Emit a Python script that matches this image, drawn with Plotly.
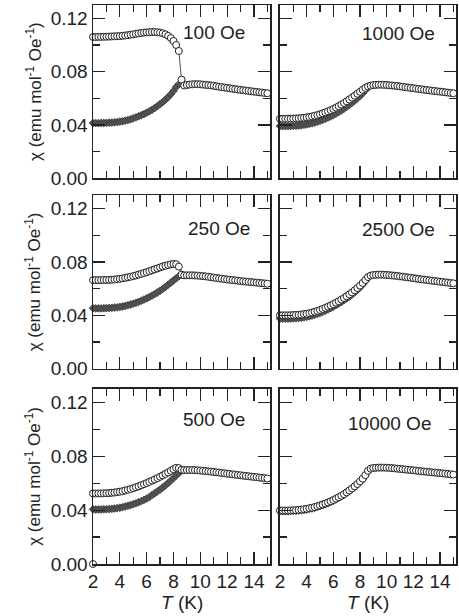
import plotly.graph_objects as go

# Temperatures (K)
T_FC = [2.0, 2.2, 2.4, 2.6, 2.8, 3.0, 3.2, 3.4, 3.6, 3.8, 4.0, 4.2, 4.4, 4.6, 4.8, 5.0,
        5.2, 5.4, 5.6, 5.8, 6.0, 6.2, 6.4, 6.6, 6.8, 7.0, 7.2, 7.4, 7.6, 7.8, 8.0, 8.2,
        8.4, 8.6, 8.8, 9.0, 9.2, 9.4, 9.6, 9.8, 10.0, 10.2, 10.4, 10.6, 10.8, 11.0, 11.2,
        11.4, 11.6, 11.8, 12.0, 12.2, 12.4, 12.6, 12.8, 13.0, 13.2, 13.4, 13.6, 13.8, 14.0,
        14.2, 14.4, 14.6, 14.8, 15.0]
T_ZFC = [2.0, 2.2, 2.4, 2.6, 2.8, 3.0, 3.2, 3.4, 3.6, 3.8, 4.0, 4.2, 4.4, 4.6, 4.8, 5.0,
         5.2, 5.4, 5.6, 5.8, 6.0, 6.2, 6.4, 6.6, 6.8, 7.0, 7.2, 7.4, 7.6, 7.8, 8.0, 8.2,
         8.4, 8.6]

field_labels = ["100 Oe", "1000 Oe", "250 Oe", "2500 Oe", "500 Oe", "10000 Oe"]

# chi (emu mol^-1 Oe^-1), field-cooled (open circles)
fc_100 = [0.1060, 0.1060, 0.1061, 0.1061, 0.1062, 0.1062, 0.1063, 0.1064, 0.1065, 0.1066,
          0.1067, 0.1069, 0.1071, 0.1074, 0.1077, 0.1080, 0.1084, 0.1087, 0.1090, 0.1093,
          0.1095, 0.1096, 0.1097, 0.1097, 0.1096, 0.1093, 0.1088, 0.1080, 0.1068, 0.1052,
          0.1030, 0.1000, 0.0955, 0.0740, 0.0696, 0.0700, 0.0703, 0.0705, 0.0706, 0.0706,
          0.0705, 0.0703, 0.0701, 0.0699, 0.0697, 0.0694, 0.0690, 0.0687, 0.0684, 0.0681,
          0.0678, 0.0675, 0.0672, 0.0669, 0.0666, 0.0663, 0.0661, 0.0658, 0.0656, 0.0653,
          0.0650, 0.0648, 0.0645, 0.0643, 0.0640, 0.0638]
fc_1000 = [0.0446, 0.0446, 0.0446, 0.0447, 0.0447, 0.0448, 0.0449, 0.0450, 0.0452, 0.0454,
           0.0457, 0.0460, 0.0464, 0.0469, 0.0474, 0.0480, 0.0487, 0.0494, 0.0502, 0.0511,
           0.0520, 0.0530, 0.0541, 0.0553, 0.0565, 0.0578, 0.0591, 0.0605, 0.0619, 0.0634,
           0.0649, 0.0664, 0.0678, 0.0689, 0.0695, 0.0699, 0.0701, 0.0702, 0.0702, 0.0701,
           0.0700, 0.0698, 0.0696, 0.0694, 0.0692, 0.0689, 0.0687, 0.0684, 0.0681, 0.0678,
           0.0676, 0.0673, 0.0670, 0.0668, 0.0665, 0.0662, 0.0660, 0.0657, 0.0655, 0.0652,
           0.0650, 0.0648, 0.0645, 0.0643, 0.0640, 0.0638]
fc_250 = [0.0664, 0.0664, 0.0664, 0.0664, 0.0665, 0.0665, 0.0666, 0.0667, 0.0669, 0.0671,
          0.0674, 0.0677, 0.0681, 0.0685, 0.0689, 0.0694, 0.0699, 0.0705, 0.0711, 0.0717,
          0.0724, 0.0731, 0.0738, 0.0745, 0.0752, 0.0759, 0.0766, 0.0772, 0.0777, 0.0782,
          0.0785, 0.0783, 0.0765, 0.0705, 0.0700, 0.0700, 0.0700, 0.0700, 0.0699, 0.0698,
          0.0696, 0.0694, 0.0692, 0.0689, 0.0686, 0.0683, 0.0680, 0.0677, 0.0675, 0.0672,
          0.0669, 0.0667, 0.0664, 0.0662, 0.0660, 0.0657, 0.0655, 0.0653, 0.0651, 0.0649,
          0.0647, 0.0645, 0.0643, 0.0641, 0.0639, 0.0637]
fc_2500 = [0.0400, 0.0400, 0.0400, 0.0400, 0.0401, 0.0402, 0.0403, 0.0404, 0.0406, 0.0409,
           0.0412, 0.0416, 0.0421, 0.0427, 0.0433, 0.0440, 0.0448, 0.0456, 0.0465, 0.0474,
           0.0484, 0.0495, 0.0506, 0.0518, 0.0530, 0.0543, 0.0557, 0.0572, 0.0588, 0.0605,
           0.0623, 0.0643, 0.0665, 0.0687, 0.0698, 0.0702, 0.0704, 0.0705, 0.0705, 0.0704,
           0.0703, 0.0701, 0.0699, 0.0697, 0.0695, 0.0692, 0.0690, 0.0687, 0.0684, 0.0682,
           0.0679, 0.0676, 0.0673, 0.0670, 0.0668, 0.0665, 0.0662, 0.0660, 0.0657, 0.0655,
           0.0652, 0.0650, 0.0647, 0.0645, 0.0642, 0.0640]
fc_500 = [0.0524, 0.0524, 0.0524, 0.0524, 0.0525, 0.0526, 0.0527, 0.0529, 0.0531, 0.0534,
          0.0537, 0.0541, 0.0546, 0.0551, 0.0557, 0.0563, 0.0570, 0.0577, 0.0585, 0.0593,
          0.0601, 0.0610, 0.0619, 0.0628, 0.0638, 0.0648, 0.0658, 0.0669, 0.0680, 0.0692,
          0.0704, 0.0714, 0.0712, 0.0700, 0.0698, 0.0698, 0.0698, 0.0698, 0.0697, 0.0696,
          0.0694, 0.0692, 0.0690, 0.0688, 0.0686, 0.0684, 0.0681, 0.0679, 0.0676, 0.0674,
          0.0671, 0.0669, 0.0666, 0.0664, 0.0661, 0.0659, 0.0656, 0.0654, 0.0652, 0.0649,
          0.0647, 0.0645, 0.0642, 0.0640, 0.0638, 0.0635]
fc_10000 = [0.0398, 0.0397, 0.0397, 0.0397, 0.0398, 0.0399, 0.0400, 0.0402, 0.0404, 0.0407,
            0.0410, 0.0414, 0.0418, 0.0423, 0.0429, 0.0435, 0.0442, 0.0449, 0.0457, 0.0466,
            0.0475, 0.0485, 0.0496, 0.0507, 0.0519, 0.0532, 0.0546, 0.0561, 0.0577, 0.0594,
            0.0613, 0.0634, 0.0660, 0.0692, 0.0708, 0.0713, 0.0715, 0.0716, 0.0716, 0.0716,
            0.0715, 0.0714, 0.0712, 0.0710, 0.0708, 0.0706, 0.0704, 0.0702, 0.0700, 0.0698,
            0.0696, 0.0694, 0.0691, 0.0689, 0.0687, 0.0685, 0.0683, 0.0681, 0.0679, 0.0677,
            0.0675, 0.0673, 0.0671, 0.0669, 0.0666, 0.0664]

# zero-field-cooled (filled diamonds)
zfc_100 = [0.0414, 0.0414, 0.0414, 0.0415, 0.0415, 0.0416, 0.0417, 0.0418, 0.0420, 0.0422,
           0.0425, 0.0428, 0.0432, 0.0437, 0.0443, 0.0450, 0.0457, 0.0465, 0.0473, 0.0482,
           0.0492, 0.0502, 0.0514, 0.0527, 0.0541, 0.0556, 0.0572, 0.0590, 0.0608, 0.0630,
           0.0655, 0.0685, 0.0705]
zfc_1000 = [0.0392, 0.0391, 0.0391, 0.0391, 0.0392, 0.0393, 0.0394, 0.0396, 0.0398, 0.0401,
            0.0404, 0.0408, 0.0413, 0.0418, 0.0424, 0.0431, 0.0438, 0.0446, 0.0455, 0.0464,
            0.0474, 0.0485, 0.0497, 0.0509, 0.0522, 0.0536, 0.0551, 0.0566, 0.0582, 0.0599,
            0.0617, 0.0637, 0.0660, 0.0682]
zfc_250 = [0.0453, 0.0452, 0.0452, 0.0452, 0.0453, 0.0454, 0.0455, 0.0456, 0.0458, 0.0460,
           0.0463, 0.0466, 0.0470, 0.0476, 0.0481, 0.0487, 0.0494, 0.0501, 0.0509, 0.0518,
           0.0527, 0.0537, 0.0548, 0.0559, 0.0571, 0.0584, 0.0598, 0.0613, 0.0629, 0.0645,
           0.0661, 0.0677, 0.0693, 0.0705]
zfc_2500 = [0.0376, 0.0375, 0.0375, 0.0375, 0.0376, 0.0377, 0.0378, 0.0380, 0.0382, 0.0385,
            0.0389, 0.0393, 0.0398, 0.0404, 0.0411, 0.0418, 0.0426, 0.0435, 0.0444, 0.0454,
            0.0465, 0.0476, 0.0488, 0.0500, 0.0513, 0.0527, 0.0541, 0.0556, 0.0572, 0.0590,
            0.0609, 0.0630, 0.0655, 0.0680]
zfc_500 = [0.0406, 0.0405, 0.0405, 0.0405, 0.0406, 0.0407, 0.0408, 0.0410, 0.0412, 0.0415,
           0.0418, 0.0422, 0.0427, 0.0432, 0.0438, 0.0444, 0.0451, 0.0459, 0.0467, 0.0476,
           0.0486, 0.0496, 0.0512, 0.0525, 0.0539, 0.0553, 0.0568, 0.0584, 0.0601, 0.0619,
           0.0638, 0.0657, 0.0676, 0.0692]
zfc_10000 = [0.0393, 0.0392, 0.0392, 0.0392, 0.0393, 0.0394, 0.0395, 0.0397, 0.0399, 0.0402,
             0.0405, 0.0409, 0.0413, 0.0418, 0.0424, 0.0430, 0.0437, 0.0444, 0.0452, 0.0461,
             0.0470, 0.0480, 0.0491, 0.0502, 0.0514, 0.0527, 0.0541, 0.0556, 0.0572, 0.0589,
             0.0608, 0.0629, 0.0655, 0.0688]

# stray point in the 500 Oe panel
stray_T = [2.0]
stray_chi = [0.0]

x_tickvals = [2, 4, 6, 8, 10, 12, 14]
y_tickvals = [0.00, 0.04, 0.08, 0.12]

fc_sets = [fc_100, fc_1000, fc_250, fc_2500, fc_500, fc_10000]
zfc_sets = [zfc_100, zfc_1000, zfc_250, zfc_2500, zfc_500, zfc_10000]

# layout geometry
W, H = 459, 616
ML, MR, MT, MB = 93, 1, 5, 52
x_domains = [[0.0, 0.4877], [0.5151, 1.0]]
y_domains = [[0.690, 1.0], [0.3494, 0.6596], [0.0, 0.3131]]
label_pos = [(13.45, 0.1090), (13.75, 0.1086), (13.88, 0.1053),
             (13.75, 0.1040), (13.45, 0.1076), (13.5, 0.1047)]

FONT = "Liberation Sans, Arial, Helvetica, sans-serif"
INK = "#222222"
FS = 19

fig = go.Figure()
layout = dict(
    width=W, height=H,
    margin=dict(l=ML, r=MR, t=MT, b=MB),
    paper_bgcolor="white", plot_bgcolor="white",
    showlegend=False,
    font=dict(family=FONT, size=FS, color=INK),
)

annotations = []
for p in range(6):
    row, col = p // 2, p % 2
    k = "" if p == 0 else str(p + 1)
    xa, ya = "x" + k, "y" + k
    zfc = zfc_sets[p]
    fig.add_trace(go.Scatter(
        x=T_ZFC[:len(zfc)], y=zfc, xaxis=xa, yaxis=ya, mode="markers",
        marker=dict(symbol="diamond", size=6, color="#555555",
                    line=dict(color="#333333", width=0.7)),
        cliponaxis=False))
    fig.add_trace(go.Scatter(
        x=T_FC, y=fc_sets[p], xaxis=xa, yaxis=ya, mode="lines+markers",
        line=dict(color=INK, width=0.8),
        marker=dict(symbol="circle", size=7, color="white",
                    line=dict(color=INK, width=1)),
        cliponaxis=False))
    if p == 4:
        fig.add_trace(go.Scatter(
            x=stray_T, y=stray_chi, xaxis=xa, yaxis=ya, mode="markers",
            marker=dict(symbol="circle", size=7, color="white",
                        line=dict(color=INK, width=1)),
            cliponaxis=False))

    layout["xaxis" + k] = dict(
        domain=x_domains[col], anchor=ya, range=[2, 15.2],
        tickmode="array", tickvals=x_tickvals,
        ticks="inside", ticklen=12, tickwidth=1.2, tickcolor=INK,
        minor=dict(ticks="inside", ticklen=7, tickwidth=1.2, tickcolor=INK,
                   tick0=2, dtick=1),
        showline=True, linecolor=INK, linewidth=1.5, mirror="allticks",
        showgrid=False, zeroline=False,
        showticklabels=(row == 2), tickfont=dict(size=FS, color=INK),
    )
    layout["yaxis" + k] = dict(
        domain=y_domains[row], anchor=xa, range=[0, 0.13],
        tickmode="array", tickvals=y_tickvals, tickformat=".2f",
        ticks="inside", ticklen=12, tickwidth=1.2, tickcolor=INK,
        minor=dict(ticks="inside", ticklen=7, tickwidth=1.2, tickcolor=INK,
                   tick0=0, dtick=0.02),
        showline=True, linecolor=INK, linewidth=1.5, mirror="allticks",
        showgrid=False, zeroline=False,
        showticklabels=(col == 0), tickfont=dict(size=FS, color=INK),
    )
    lx, ly = label_pos[p]
    annotations.append(dict(
        x=lx, y=ly, xref=xa, yref=ya, text=field_labels[p], showarrow=False,
        xanchor="right", yanchor="middle", font=dict(size=FS, color=INK)))

    if col == 0:
        yc = (y_domains[row][0] + y_domains[row][1]) / 2
        annotations.append(dict(
            x=-0.1644, y=yc, xref="paper", yref="paper",
            text="\u03c7 (emu mol<sup>-1</sup> Oe<sup>-1</sup>)",
            textangle=-90, showarrow=False, xanchor="center", yanchor="middle",
            font=dict(size=17, color=INK)))
    if row == 2:
        xc = (x_domains[col][0] + x_domains[col][1]) / 2
        annotations.append(dict(
            x=xc, y=-0.068, xref="paper", yref="paper",
            text="<i>T</i> (K)", showarrow=False, xanchor="center", yanchor="middle",
            font=dict(size=FS, color=INK)))

layout["annotations"] = annotations
fig.update_layout(**layout)
fig.write_html("out.html",
               config={"displayModeBar": False, "staticPlot": True},
               post_script="document.body.style.margin='0';document.body.style.overflow='hidden';")
